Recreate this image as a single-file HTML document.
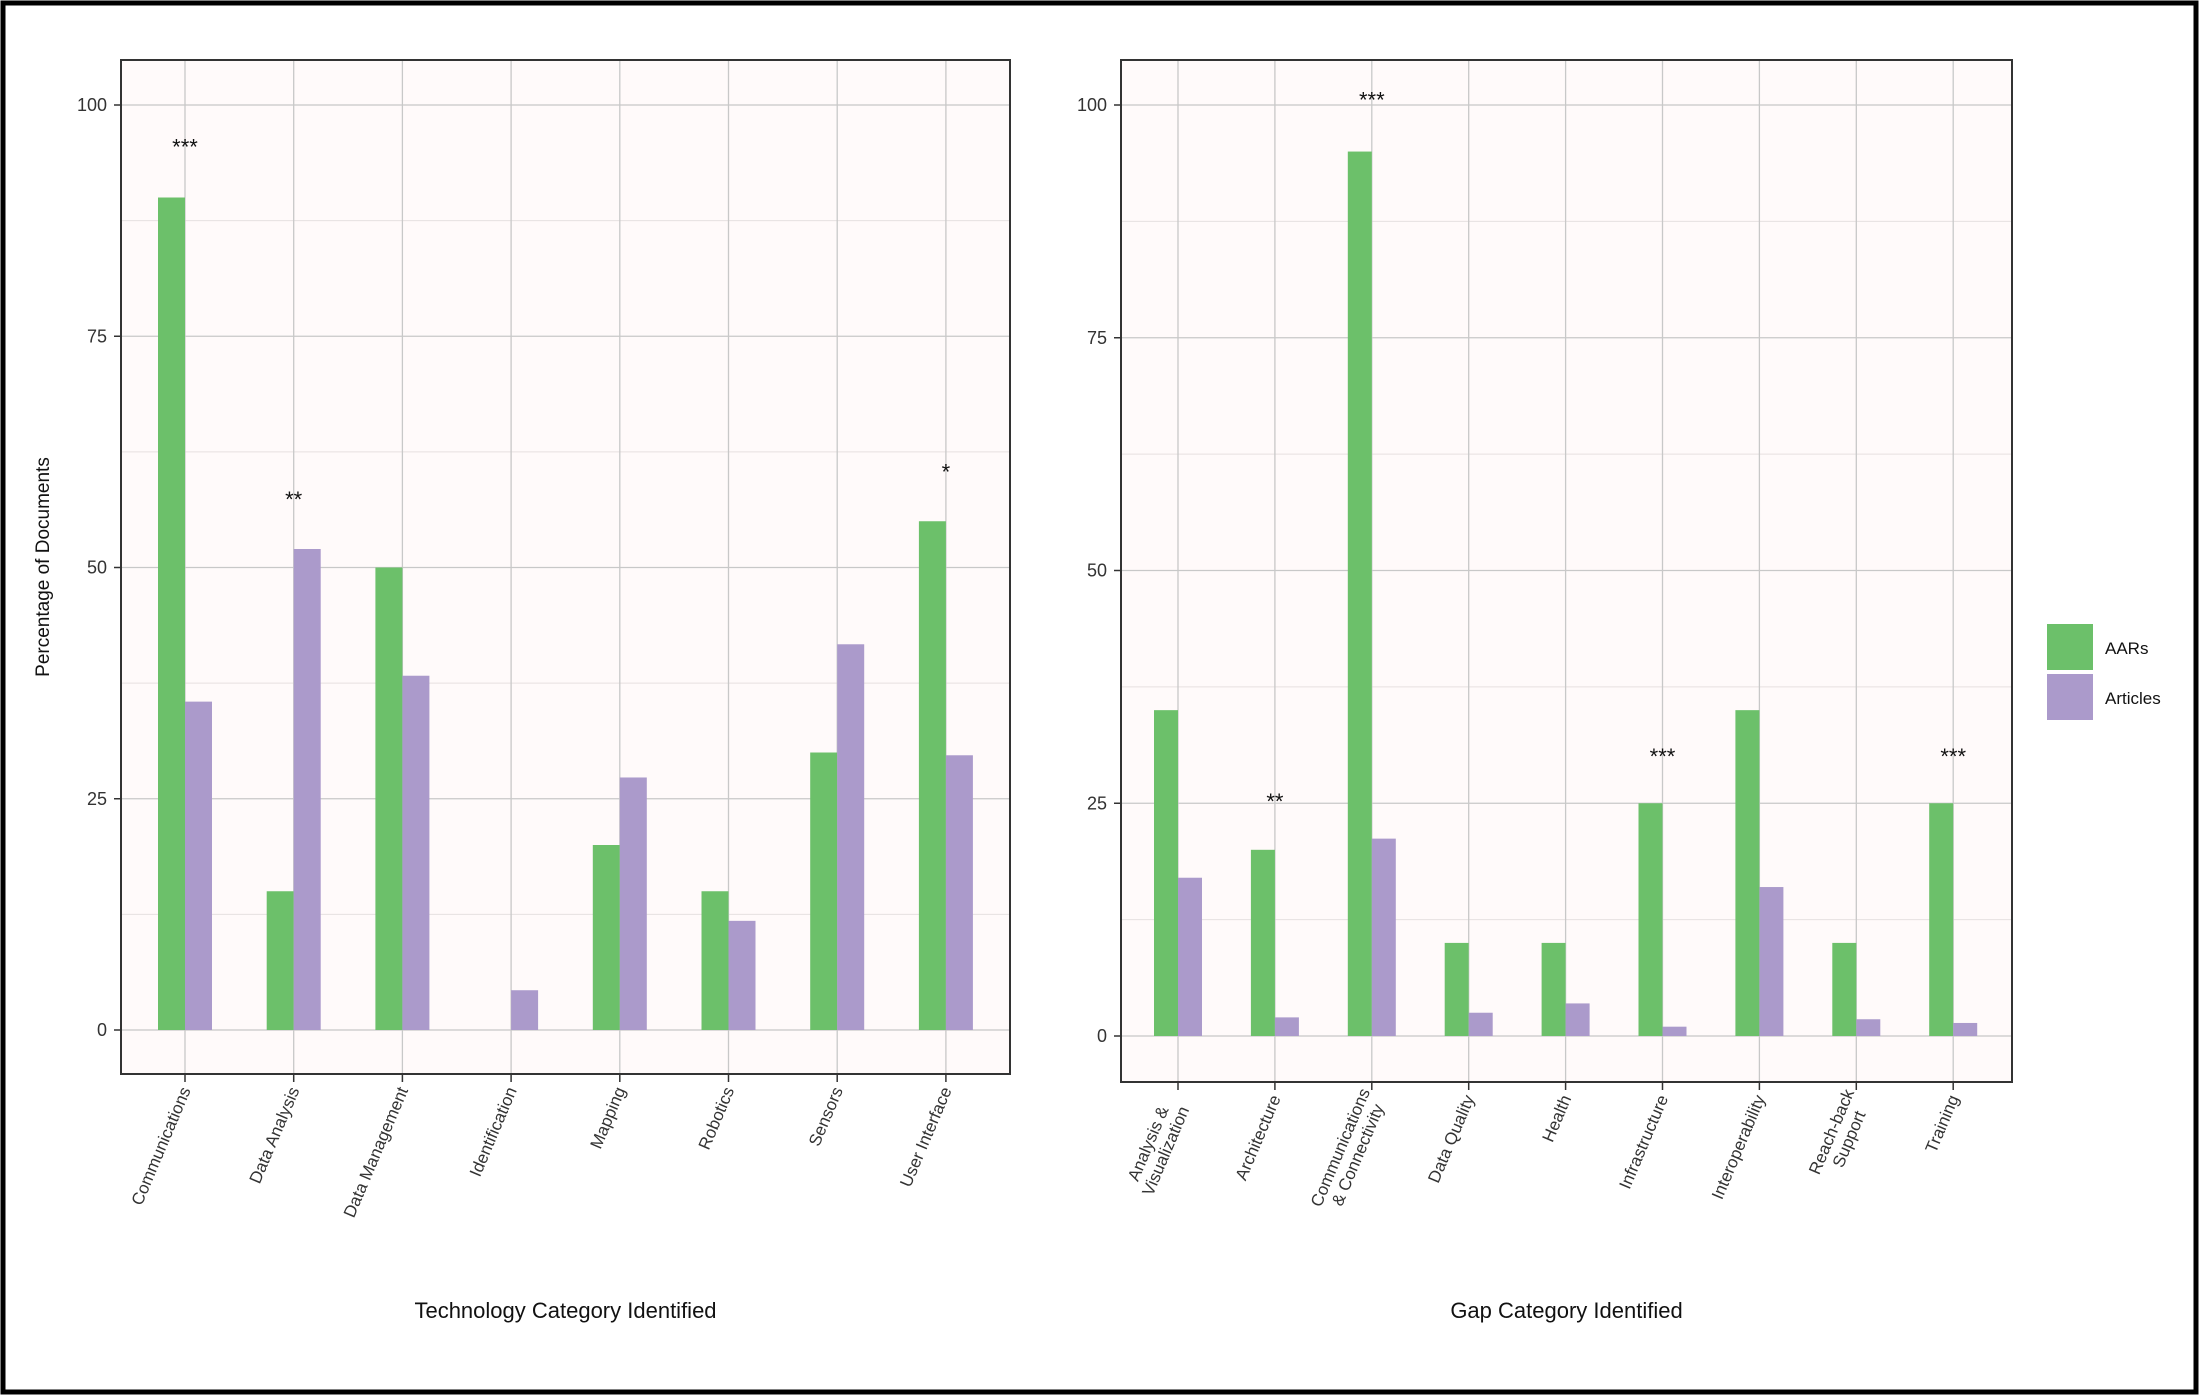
<!DOCTYPE html>
<html><head><meta charset="utf-8"><style>
html,body{margin:0;padding:0;background:#fff;}
svg{display:block;font-family:"Liberation Sans",Arial,sans-serif;}
</style></head><body>
<svg id="chart" width="2200" height="1397" viewBox="0 0 2200 1397" xmlns="http://www.w3.org/2000/svg">
<rect x="3" y="3" width="2193" height="1389" fill="#fff" stroke="#000" stroke-width="5"/>
<g id="left"></g>
<g id="right"></g>
<g>
<rect x="2047" y="624" width="46" height="46" fill="#6cc06a"/>
<rect x="2047" y="674" width="46" height="46" fill="#ab9acb"/>
<text x="2105" y="654" font-size="17" fill="#111">AARs</text>
<text x="2105" y="704" font-size="17" fill="#111">Articles</text>
</g>
</svg>
<script>
const leftCategories = [["Communications"],["Data Analysis"],["Data Management"],["Identification"],["Mapping"],["Robotics"],["Sensors"],["User Interface"]];
const leftAARs = [90,15,50,0,20,15,30,55];
const leftArticles = [35.5,52,38.3,4.3,27.3,11.8,41.7,29.7];
const leftSig = ["***","**","","","","","","*"];
const leftSigY = [95.5,57.4,0,0,0,0,0,60.4];
const rightCategories = [["Analysis &","Visualization"],["Architecture"],["Communications","& Connectivity"],["Data Quality"],["Health"],["Infrastructure"],["Interoperability"],["Reach-back","Support"],["Training"]];
const rightAARs = [35,20,95,10,10,25,35,10,25];
const rightArticles = [17,2,21.2,2.5,3.5,1,16,1.8,1.4];
const rightSig = ["","**","***","","","***","","","***"];
const rightSigY = [0,25.25,100.6,0,0,30.1,0,0,30.1];
const yTicks = [0,25,50,75,100];

const NS="http://www.w3.org/2000/svg";
function mk(parent,tag,attrs){const e=document.createElementNS(NS,tag);for(const k in attrs)e.setAttribute(k,attrs[k]);parent.appendChild(e);return e;}

function drawPanel(g,cfg){
  const {x0,x1,y0,y1,zeroY,hundredY,first,step,barW,cats,a,b,sig,sigY,title,showYLabel}=cfg;
  const yS=v=>zeroY-(zeroY-hundredY)*v/100;
  const xS=i=>first+step*i;
  const bg=mk(g,'rect',{x:x0,y:y0,width:x1-x0,height:y1-y0,fill:'#fffafa'});
  
  
  for(let v=-12.5;v<=112.5;v+=25){const yy=yS(v);if(yy<y0||yy>y1)continue;
    const l=mk(g,'line',{x1:x0,x2:x1,y1:yy,y2:yy,stroke:'#e6e0e0','stroke-width':1});
    
    }
  yTicks.forEach(v=>{const yy=yS(v);
    const l=mk(g,'line',{x1:x0,x2:x1,y1:yy,y2:yy,stroke:'#c8c8c8','stroke-width':1.3});
    
    
    const t=mk(g,'line',{x1:x0-7,x2:x0,y1:yy,y2:yy,stroke:'#333','stroke-width':1.5});
    
    
    const tx=mk(g,'text',{x:x0-14,y:yy+6,'text-anchor':'end','font-size':18,fill:'#333'});
    tx.textContent=v;
    
    });
  cats.forEach((c,i)=>{const cx=xS(i);
    const l=mk(g,'line',{x1:cx,x2:cx,y1:y0,y2:y1,stroke:'#c8c8c8','stroke-width':1.3});
    
    });
  cats.forEach((c,i)=>{const cx=xS(i);
    const ra=mk(g,'rect',{x:cx-barW,y:yS(a[i]),width:barW,height:yS(0)-yS(a[i]),fill:'#6cc06a'});
    
    
    const rb=mk(g,'rect',{x:cx,y:yS(b[i]),width:barW,height:yS(0)-yS(b[i]),fill:'#ab9acb'});
    
    
    if(sig[i]){const s=mk(g,'text',{x:cx,y:yS(sigY[i])+8,'text-anchor':'middle','font-size':22,fill:'#111'});
      s.textContent=sig[i];
      
      }
    const t=mk(g,'line',{x1:cx,x2:cx,y1:y1,y2:y1+8,stroke:'#333','stroke-width':1.5});
    
    
    const tx=mk(g,'text',{transform:`translate(${cx+6},${y1+16}) rotate(-67)`,'text-anchor':'end','font-size':17,fill:'#333'});
    
    
    c.forEach((line,k)=>{const ts=mk(tx,'tspan',{x:0,dy:k===0?(-(c.length-1)*19/2):19});ts.textContent=line;
      if(c.length>1){ts.setAttribute('text-anchor','middle');ts.setAttribute('x',-((c.length===2)?Math.max(c[0].length,c[1].length)*4.3:0));}});
  });
  const fr=mk(g,'rect',{x:x0,y:y0,width:x1-x0,height:y1-y0,fill:'none',stroke:'#333','stroke-width':2});
  
  
  const tt=mk(g,'text',{x:(x0+x1)/2,y:1318,'text-anchor':'middle','font-size':22,fill:'#111'});
  tt.textContent=title;
  
  
  if(showYLabel){const yl=mk(g,'text',{transform:`translate(49,${(y0+y1)/2}) rotate(-90)`,'text-anchor':'middle','font-size':19,fill:'#111'});
    yl.textContent='Percentage of Documents';
    
    }
}
drawPanel(document.getElementById('left'),{x0:121,x1:1010,y0:60,y1:1074,zeroY:1030,hundredY:105,first:185,step:108.7,barW:27,cats:leftCategories,a:leftAARs,b:leftArticles,sig:leftSig,sigY:leftSigY,title:'Technology Category Identified',showYLabel:true});
drawPanel(document.getElementById('right'),{x0:1121,x1:2012,y0:60,y1:1082,zeroY:1036,hundredY:105,first:1178,step:96.9,barW:24,cats:rightCategories,a:rightAARs,b:rightArticles,sig:rightSig,sigY:rightSigY,title:'Gap Category Identified',showYLabel:false});
</script>
</body></html>
